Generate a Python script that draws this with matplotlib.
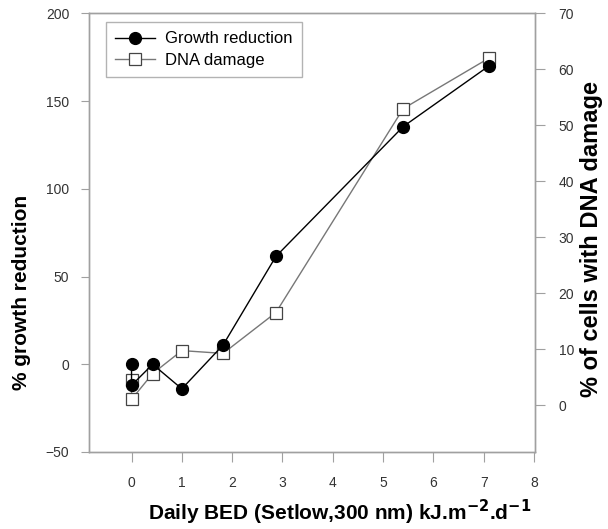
import matplotlib
matplotlib.use("Agg")
import matplotlib.pyplot as plt

plt.rcParams['font.family'] = ['Liberation Sans', 'DejaVu Sans']

# Growth reduction (left axis, %)
growth_x = [0, 0, 0.42, 1.0, 1.82, 2.87, 5.4, 7.1]
growth_y = [0, -12, 0, -14, 11, 61.5, 135.5, 170]

# DNA damage (right axis, % of cells)
dna_x = [0, 0, 0.42, 1.0, 1.82, 2.87, 5.4, 7.1]
dna_y = [4.6, 1.1, 5.7, 9.8, 9.3, 16.6, 53, 62]

x_ticks = [0, 1, 2, 3, 4, 5, 6, 7, 8]
left_ticks = [-50, 0, 50, 100, 150, 200]
right_ticks = [0, 10, 20, 30, 40, 50, 60, 70]

spine_c = '#a0a0a0'
tick_lbl_c = '#333333'

fig = plt.figure(figsize=(6.08, 5.29), dpi=100)
ax = fig.add_axes([0.146, 0.1456, 0.734, 0.829])
ax2 = ax.twinx()

l2, = ax2.plot(dna_x, dna_y, color='#777777', lw=1.0, marker='s', ms=8,
               mfc='white', mec='#444444', mew=0.9, label='DNA damage', zorder=2)
l1, = ax.plot(growth_x, growth_y, color='black', lw=1.0, marker='o', ms=8.5,
              mfc='black', mec='black', label='Growth reduction', zorder=3)

ax.set_zorder(ax2.get_zorder() + 1)
ax.patch.set_visible(False)

ax.set_xlim(-0.85, 8.02)
ax.set_ylim(-50, 200)
ax2.set_ylim(-8.3, 70)
ax.set_xticks(x_ticks)
ax.set_yticks(left_ticks)
ax2.set_yticks(right_ticks)

for a in (ax, ax2):
    for s in a.spines.values():
        s.set_color(spine_c)
        s.set_linewidth(1.0)

ax.tick_params(axis='x', direction='out', length=7, width=0.8, color=spine_c,
               labelsize=10, labelcolor=tick_lbl_c, pad=10)
ax.tick_params(axis='y', direction='out', length=6, width=0.8, color=spine_c,
               labelsize=10, labelcolor=tick_lbl_c, pad=8)
ax2.tick_params(axis='y', direction='out', length=7, width=0.8, color=spine_c,
                labelsize=10, labelcolor=tick_lbl_c, pad=10)

ax.set_xlabel('Daily BED (Setlow,300 nm) kJ.m$^{\\mathbf{-2}}$.d$^{\\mathbf{-1}}$',
              fontsize=15, fontweight='bold')
ax.xaxis.set_label_coords(0.563, -0.105)
ax.set_ylabel('% growth reduction', fontsize=15, fontweight='bold')
ax.yaxis.set_label_coords(-0.13, 0.364)
ax2.set_ylabel('% of cells with DNA damage', fontsize=17, fontweight='bold')
ax2.yaxis.set_label_coords(1.1, 0.485)

leg = ax.legend(handles=[l1, l2], loc='upper left', bbox_to_anchor=(0.038, 0.98),
                borderaxespad=0, fontsize=12, frameon=True, fancybox=False,
                borderpad=0.55, handlelength=2.4, labelspacing=0.4, handletextpad=0.6)
leg.get_frame().set_edgecolor(spine_c)
leg.get_frame().set_linewidth(1.0)

fig.savefig('out.png', dpi=100)
